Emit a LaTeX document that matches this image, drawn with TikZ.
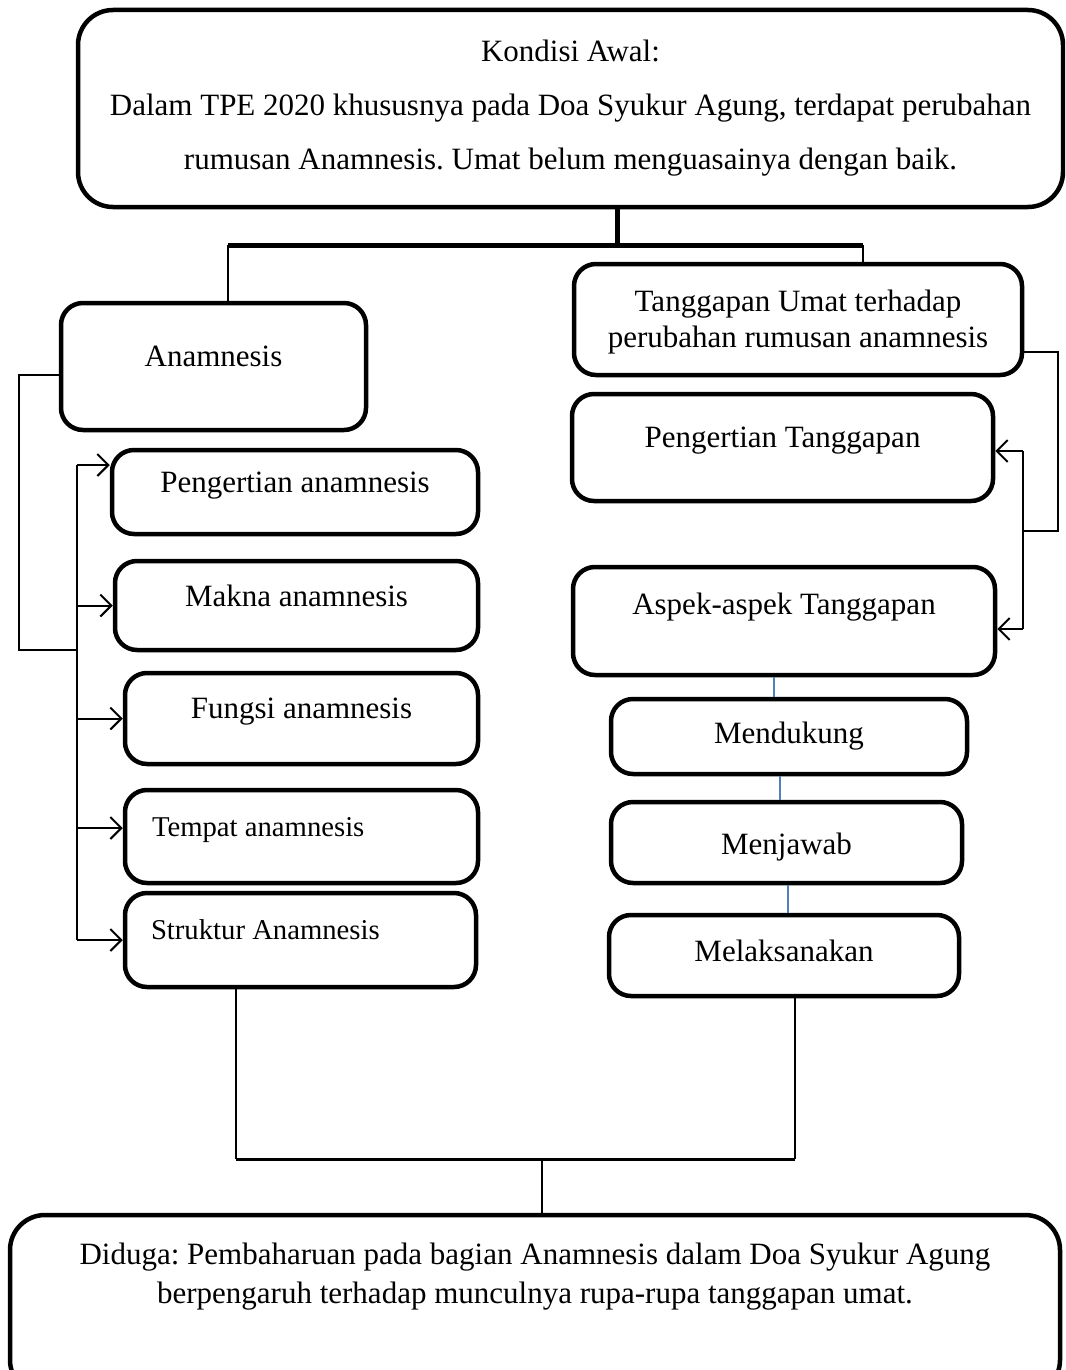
\documentclass[tikz,border=0pt]{standalone}
\usepackage{fontspec}
\setmainfont{Liberation Serif}
\usetikzlibrary{arrows.meta}
\definecolor{tieblue}{RGB}{79,129,189}
\frenchspacing

\begin{document}
\begin{tikzpicture}[x=1pt,y=-1pt,
  box/.style={rectangle,draw,line width=4.5pt,rounded corners=22pt,align=center,font=\fontsize{31}{36}\selectfont},
  raised/.style={text depth=20pt},
  small/.style={font=\fontsize{28.7}{34}\selectfont},
  link/.style={line width=2pt},
  thickline/.style={line width=5pt},
  tie/.style={line width=2pt,draw=tieblue},
  arr/.style={-{Straight Barb[length=11pt,width=22pt,line width=2pt]}}]

\useasboundingbox (0,0) rectangle (1065,1370);
\clip (0,0) rectangle (1065,1370);

\node (Kondisi) at (570.5,108.5) [box,rounded corners=35pt,minimum width=985pt,minimum height=197pt,font=\fontsize{31}{54}\selectfont] {Kondisi Awal:\\Dalam TPE 2020 khususnya pada Doa Syukur Agung, terdapat perubahan\\rumusan Anamnesis. Umat belum menguasainya dengan baik.};

\node (Anamnesis) at (213.5,366.5) [box,raised,minimum width=305pt,minimum height=127pt] {Anamnesis};

\node (Pengertian) at (295,492) [box,raised,minimum width=366pt,minimum height=84pt] {Pengertian anamnesis};

\node (Makna) at (296.5,605.5) [box,raised,minimum width=363pt,minimum height=89pt] {Makna anamnesis};

\node (Fungsi) at (301.5,718.5) [box,raised,minimum width=353pt,minimum height=91pt] {Fungsi anamnesis};

\node (Tempat) at (301.5,836.5) [box,small,raised,minimum width=353pt,minimum height=93pt] {\makebox[299pt][l]{Tempat anamnesis}};

\node (Struktur) at (300.5,940) [box,small,raised,minimum width=351pt,minimum height=94pt] {\makebox[299pt][l]{Struktur Anamnesis}};

\node (Tanggapan) at (798,319.5) [box,text height=63pt,minimum width=448pt,minimum height=111pt] {Tanggapan Umat terhadap\\perubahan rumusan anamnesis};

\node (PengertianT) at (782.5,447.5) [box,raised,minimum width=421pt,minimum height=107pt] {Pengertian Tanggapan};

\node (Aspek) at (784,621) [box,text depth=35pt,minimum width=422pt,minimum height=108pt] {Aspek-aspek Tanggapan};

\node (Mendukung) at (789,736.5) [box,minimum width=356pt,minimum height=75pt] {Mendukung};

\node (Menjawab) at (786.5,842.5) [box,text height=30pt,minimum width=351pt,minimum height=81pt] {Menjawab};

\node (Melaksanakan) at (784,955.5) [box,text depth=10pt,minimum width=350pt,minimum height=81pt] {Melaksanakan};

\node (Diduga) at (535,1305) [box,rounded corners=35pt,minimum width=1050pt,minimum height=180pt,font=\fontsize{31}{39}\selectfont,text depth=63pt] {Diduga: Pembaharuan pada bagian Anamnesis dalam Doa Syukur Agung\\berpengaruh terhadap munculnya rupa-rupa tanggapan umat.};

\coordinate (SplitL) at (228,245);
\coordinate (SplitM) at (617,245);
\coordinate (SplitR) at (863,245);
\draw[thickline] (SplitM |- Kondisi.south) -- (SplitM);
\draw[thickline] (SplitL) -- (SplitR);
\draw[link] (SplitL) -- (SplitL |- Anamnesis.north);
\draw[link] (SplitR) -- (SplitR |- Tanggapan.north);

\coordinate (LeftTop) at (19,375);
\coordinate (LeftBot) at (19,650);
\coordinate (BusTop) at (77,465);
\coordinate (BusBot) at (77,940);
\draw[link] (Anamnesis.west |- LeftTop) -- (LeftTop) -- (LeftBot) -- (BusTop |- LeftBot);
\draw[link] (BusTop) -- (BusBot);
\draw[link,arr] (BusTop) -- (Pengertian.west |- BusTop);
\draw[link,arr] (BusTop |- Makna.west) -- (Makna.west);
\draw[link,arr] (BusTop |- Fungsi.west) -- (Fungsi.west);
\draw[link,arr] (BusTop |- 0,828) -- (Tempat.west |- 0,828);
\draw[link,arr] (BusBot) -- (Struktur.west |- BusBot);

\coordinate (RightTop) at (1058,352);
\coordinate (RightBot) at (1058,531);
\coordinate (RBusTop) at (1023,451);
\coordinate (RBusBot) at (1023,629);
\draw[link] (Tanggapan.east |- RightTop) -- (RightTop) -- (RightBot) -- (RBusTop |- RightBot);
\draw[link] (RBusTop) -- (RBusBot);
\draw[link,arr] (RBusTop) -- (PengertianT.east |- RBusTop);
\draw[link,arr] (RBusBot) -- (Aspek.east |- RBusBot);

\coordinate (TieA) at (774,0);
\coordinate (TieB) at (780,0);
\coordinate (TieC) at (788,0);
\draw[tie] (TieA |- Aspek.south) -- (TieA |- Mendukung.north);
\draw[tie] (TieB |- Mendukung.south) -- (TieB |- Menjawab.north);
\draw[tie] (TieC |- Menjawab.south) -- (TieC |- Melaksanakan.north);

\coordinate (JoinL) at (236,1159);
\coordinate (JoinM) at (542,1159);
\coordinate (JoinR) at (795,1159);
\draw[link] (JoinL |- Struktur.south) -- (JoinL);
\draw[link] (JoinR |- Melaksanakan.south) -- (JoinR);
\draw[line width=3pt] (JoinL) -- (JoinR);
\draw[link] (JoinM) -- (JoinM |- Diduga.north);

\end{tikzpicture}
\end{document}
